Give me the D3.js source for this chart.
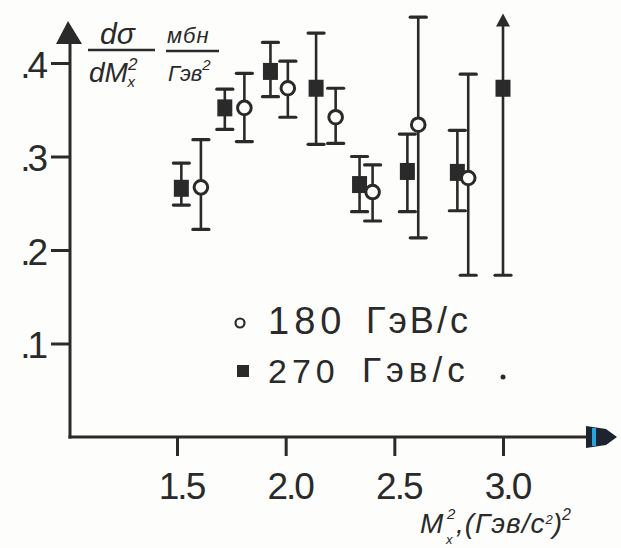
<!DOCTYPE html>
<html>
<head>
<meta charset="utf-8">
<script src="https://cdn.jsdelivr.net/npm/d3@7"></script>
<style>
  html, body { margin: 0; padding: 0; background: #fdfdfc; }
  svg { display: block; }
  text { font-family: "Liberation Sans", Arial, sans-serif; fill: #2a2a2a; }
</style>
</head>
<body>
<script>
// 270 GeV/c beam (filled squares)
const mx270  = [1.52, 1.72, 1.93, 2.14, 2.34, 2.56, 2.79, 3.00];
const val270 = [0.266, 0.352, 0.391, 0.373, 0.270, 0.284, 0.283, 0.373];
const hi270  = [0.293, 0.372, 0.422, 0.432, 0.300, 0.324, 0.328, 0.453];
const lo270  = [0.248, 0.329, 0.364, 0.313, 0.241, 0.241, 0.242, 0.173];
const openTop270 = [false, false, false, false, false, false, false, true];

// 180 GeV/c beam (open circles)
const mx180  = [1.61, 1.81, 2.01, 2.23, 2.40, 2.61, 2.84];
const val180 = [0.267, 0.352, 0.373, 0.342, 0.262, 0.334, 0.277];
const hi180  = [0.318, 0.389, 0.402, 0.373, 0.291, 0.449, 0.388];
const lo180  = [0.222, 0.316, 0.342, 0.314, 0.231, 0.213, 0.173];

const xTicks = [1.5, 2.0, 2.5, 3.0];
const xTickLabels = ["1.5", "2.0", "2.5", "3.0"];
const yTicks = [0.1, 0.2, 0.3, 0.4];
const yTickLabels = [".1", ".2", ".3", ".4"];
const legendLabels = [["180", "ГэВ/с"], ["270", "Гэв/с"]];

const W = 621, H = 548;
const ink = "#2a2a2a";
const paper = "#fdfdfc";

const svg = d3.select("body").append("svg")
  .attr("width", W).attr("height", H);

const x = d3.scaleLinear().domain([1.5, 3.0]).range([177, 503]);
const y = d3.scaleLinear().domain([0, 0.4]).range([437, 63]);
const x0 = 70;           // vertical axis position
const y0 = y(0);         // horizontal axis position

// axes
const xAxis = d3.axisBottom(x).tickValues(xTicks).tickSize(19)
  .tickFormat((d, i) => xTickLabels[i]);
const gx = svg.append("g").attr("transform", `translate(0,${y0})`).call(xAxis);
gx.select(".domain").remove();
gx.selectAll(".tick line").attr("stroke", ink).attr("stroke-width", 3);
gx.selectAll(".tick text")
  .attr("fill", ink).attr("font-size", 37).attr("y", 62).attr("dy", 0)
  .attr("dx", 4)
  .attr("font-family", "DejaVu Sans, sans-serif")
  .attr("letter-spacing", -2);

const yAxis = d3.axisLeft(y).tickValues(yTicks).tickSize(19)
  .tickFormat((d, i) => yTickLabels[i]);
const gy = svg.append("g").attr("transform", `translate(${x0},0)`).call(yAxis);
gy.select(".domain").remove();
gy.selectAll(".tick line").attr("stroke", ink).attr("stroke-width", 3);
gy.selectAll(".tick text")
  .attr("fill", ink).attr("font-size", 37).attr("x", -25).attr("dy", 14)
  .attr("font-family", "DejaVu Sans, sans-serif")
  .attr("letter-spacing", -3);

// axis lines with arrowheads
svg.append("line").attr("x1", x0).attr("y1", y0 + 1.5).attr("x2", x0).attr("y2", 40)
  .attr("stroke", ink).attr("stroke-width", 3);
svg.append("path").attr("d", `M${x0 - 2},21 L${x0 - 14},44 L${x0 + 12},44 Z`).attr("fill", ink);

svg.append("line").attr("x1", x0 - 1.5).attr("y1", y0).attr("x2", 596).attr("y2", y0)
  .attr("stroke", ink).attr("stroke-width", 3);
svg.append("path")
  .attr("d", `M586,${y0 - 11} L606,${y0 - 8} L617,${y0} L606,${y0 + 8} L586,${y0 + 11} Z`)
  .attr("fill", "#1d2430");
svg.append("rect").attr("x", 592).attr("y", y0 - 9).attr("width", 4).attr("height", 18)
  .attr("fill", "#2aa3d8");

// y-axis title: dσ/dM²x , мбн/Гэв²
const title = svg.append("g").attr("font-style", "italic");
title.append("text").attr("x", 100).attr("y", 44).attr("font-size", 30).text("dσ");
title.append("line").attr("x1", 88).attr("x2", 155).attr("y1", 50).attr("y2", 50)
  .attr("stroke", ink).attr("stroke-width", 2.5);
const dm = title.append("text").attr("x", 89).attr("y", 82).attr("font-size", 28);
dm.append("tspan").text("dM");
dm.append("tspan").attr("font-size", 17).attr("dy", -12).text("2");
dm.append("tspan").attr("font-size", 15).attr("dx", -10).attr("dy", 17).text("x");

title.append("text").attr("x", 167).attr("y", 43).attr("font-size", 22)
  .attr("letter-spacing", 1).text("мбн");
title.append("line").attr("x1", 166).attr("x2", 219).attr("y1", 51).attr("y2", 51)
  .attr("stroke", ink).attr("stroke-width", 2.5);
const gev = title.append("text").attr("x", 168).attr("y", 81).attr("font-size", 22);
gev.append("tspan").text("Гэв");
gev.append("tspan").attr("font-size", 15).attr("dy", -11).text("2");

// x-axis title: M²x ,(Гэв/с²)²  (the stacked indices are placed as separate texts)
const xt = svg.append("g").attr("font-style", "italic");
xt.append("text").attr("x", 420).attr("y", 533).attr("font-size", 28).text("M");
xt.append("text").attr("x", 447).attr("y", 519).attr("font-size", 15).text("2");
xt.append("text").attr("x", 446).attr("y", 544).attr("font-size", 13).text("x");
const rest = xt.append("text").attr("x", 456).attr("y", 533).attr("font-size", 28);
rest.append("tspan").attr("letter-spacing", 1).text(",(Гэв/с");
rest.append("tspan").attr("font-size", 13).attr("dy", -9).text("2");
rest.append("tspan").attr("dy", 9).text(")");
rest.append("tspan").attr("font-size", 16).attr("dy", -13).text("2");

// error bars
function errorBars(mx, lo, hi, openTop) {
  const g = svg.append("g").attr("stroke", ink).attr("fill", "none");
  mx.forEach((m, i) => {
    const cx = x(m);
    const arrow = openTop && openTop[i];
    g.append("line").attr("x1", cx).attr("x2", cx)
      .attr("y1", y(lo[i])).attr("y2", y(hi[i]) + (arrow ? 10 : 0))
      .attr("stroke-width", 2.6);
    g.append("line").attr("x1", cx - 8).attr("x2", cx + 8)
      .attr("y1", y(lo[i])).attr("y2", y(lo[i])).attr("stroke-width", 3.2)
      .attr("stroke-linecap", "round");
    if (arrow) {
      svg.append("path")
        .attr("d", `M${cx},${y(hi[i])} L${cx - 7},${y(hi[i]) + 13} L${cx + 7},${y(hi[i]) + 13} Z`)
        .attr("fill", ink);
    } else {
      g.append("line").attr("x1", cx - 8).attr("x2", cx + 8)
        .attr("y1", y(hi[i])).attr("y2", y(hi[i])).attr("stroke-width", 3.2)
        .attr("stroke-linecap", "round");
    }
  });
}
errorBars(mx270, lo270, hi270, openTop270);
errorBars(mx180, lo180, hi180, null);

// markers: squares first, circles on top
svg.append("g").selectAll("rect").data(mx270).join("rect")
  .attr("x", d => x(d) - 7.5)
  .attr("y", (d, i) => y(val270[i]) - 8.5)
  .attr("width", 15).attr("height", 17)
  .attr("fill", ink);

svg.append("g").selectAll("circle").data(mx180).join("circle")
  .attr("cx", d => x(d))
  .attr("cy", (d, i) => y(val180[i]))
  .attr("r", 6.8)
  .attr("fill", paper).attr("stroke", ink).attr("stroke-width", 3);

// legend
const lg = svg.append("g").attr("font-family", "DejaVu Sans, sans-serif");
lg.append("circle").attr("cx", 240).attr("cy", 323).attr("r", 4.5)
  .attr("fill", "none").attr("stroke", ink).attr("stroke-width", 2.2);
lg.append("rect").attr("x", 237).attr("y", 365).attr("width", 12).attr("height", 12)
  .attr("fill", ink);
lg.append("text").attr("x", 268).attr("y", 334).attr("font-size", 38)
  .attr("letter-spacing", 5).text(legendLabels[0][0]);
lg.append("text").attr("x", 366).attr("y", 333).attr("font-size", 36)
  .attr("letter-spacing", 3).text(legendLabels[0][1]);
lg.append("text").attr("x", 268).attr("y", 383).attr("font-size", 34)
  .attr("letter-spacing", 5).text(legendLabels[1][0]);
lg.append("text").attr("x", 362).attr("y", 382).attr("font-size", 35)
  .attr("letter-spacing", 5).text(legendLabels[1][1]);
lg.append("circle").attr("cx", 503).attr("cy", 377).attr("r", 2.5).attr("fill", ink);
</script>
</body>
</html>
